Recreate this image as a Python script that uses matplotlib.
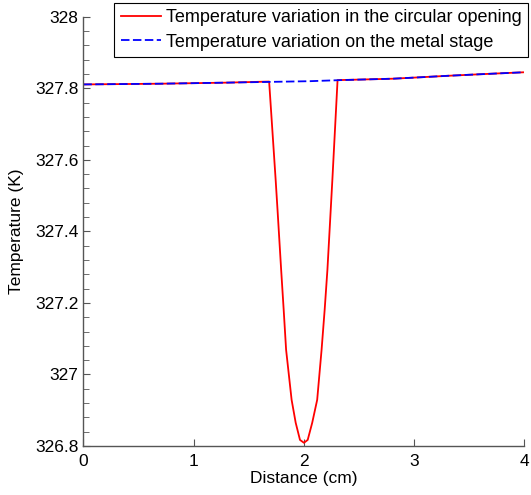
import matplotlib
matplotlib.use('Agg')
import matplotlib.pyplot as plt
from matplotlib.ticker import MultipleLocator, FormatStrFormatter

plt.rcParams['font.family'] = ['Liberation Sans', 'DejaVu Sans']

# temperatura en la abertura circular (K) vs distancia (cm)
x_open = [0, 0.7, 1.3, 1.686, 1.745, 1.762, 1.795, 1.818, 1.840, 1.890, 1.927,
          1.966, 2.002, 2.036, 2.077, 2.122, 2.162, 2.190, 2.215, 2.245, 2.260,
          2.307, 2.81, 3.06, 3.30, 3.57, 3.78, 4.0]
t_open = [327.811, 327.813, 327.816, 327.819, 327.545, 327.461, 327.293, 327.181,
          327.069, 326.929, 326.865, 326.817, 326.809, 326.817, 326.865, 326.929,
          327.069, 327.181, 327.293, 327.461, 327.545, 327.823, 327.827, 327.831,
          327.835, 327.839, 327.842, 327.845]

# temperatura sobre la platina metálica
x_stage = [0.0, 0.7, 1.3, 2.05, 2.33, 2.81, 3.06, 3.30, 3.57, 3.78, 4.0]
t_stage = [327.811, 327.813, 327.816, 327.820, 327.823, 327.827, 327.831,
           327.835, 327.839, 327.842, 327.845]

labels = ['Temperature variation in the circular opening',
          'Temperature variation on the metal stage']

fig = plt.figure(figsize=(5.31, 4.95), dpi=100)
ax = fig.add_axes([0.157, 0.099, 0.830, 0.867])

ax.plot(x_open, t_open, color='#ff0000', lw=1.3, label=labels[0])
ax.plot(x_stage, t_stage, color='#0000ff', lw=1.3, dashes=(4.7, 1.9), label=labels[1])

ax.set_xlim(0, 4)
ax.set_ylim(326.8, 328)
ax.xaxis.set_major_locator(MultipleLocator(1))
ax.yaxis.set_major_locator(MultipleLocator(0.2))
ax.yaxis.set_minor_locator(MultipleLocator(0.04))
ax.yaxis.set_major_formatter(FormatStrFormatter('%g'))

for s in ['top', 'right']:
    ax.spines[s].set_visible(False)
for s in ['left', 'bottom']:
    ax.spines[s].set_color('#555555')
    ax.spines[s].set_linewidth(1.0)

ax.tick_params(which='both', direction='in', labelsize=12.5, color='#555555')
ax.tick_params(which='major', length=5)
ax.tick_params(which='minor', length=4)
ax.tick_params(axis='x', pad=6)

ax.set_xlabel('Distance (cm)', fontsize=12.5, labelpad=1)
ax.set_ylabel('Temperature (K)', fontsize=12.5, labelpad=8)

leg = ax.legend(loc='upper right', bbox_to_anchor=(528 / 531, 1 - 3 / 495),
                bbox_transform=fig.transFigure, fontsize=13, fancybox=False,
                framealpha=1, edgecolor='black', handlelength=2.2,
                borderpad=0.35, labelspacing=0.4, handletextpad=0.3,
                borderaxespad=0)
leg.get_frame().set_linewidth(0.8)

fig.savefig('out.png', dpi=100)
